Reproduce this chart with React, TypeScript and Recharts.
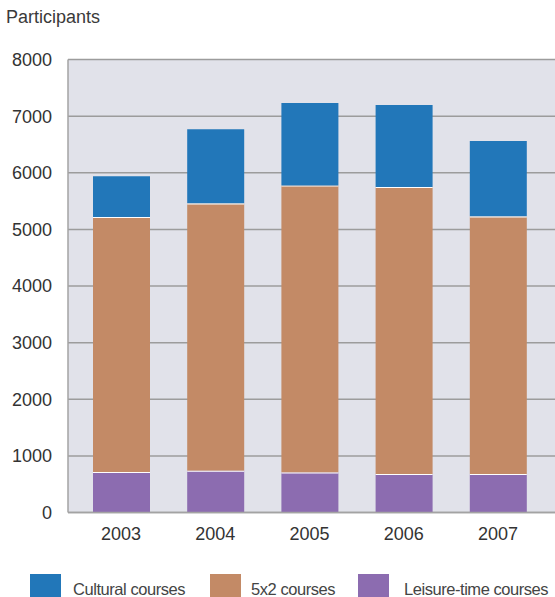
import React from 'react';
import { BarChart, Bar, XAxis, YAxis, CartesianGrid } from 'recharts';

const years = ['2003', '2004', '2005', '2006', '2007'];
const leisure = [715, 740, 710, 680, 680];
const fiveByTwo = [4505, 4720, 5065, 5070, 4550];
const cultural = [720, 1310, 1455, 1445, 1330];
const yTicks = [0, 1000, 2000, 3000, 4000, 5000, 6000, 7000, 8000];

const data = years.map((year, i) => ({
  year,
  leisure: leisure[i],
  fiveByTwo: fiveByTwo[i],
  cultural: cultural[i],
}));

const font = '"Liberation Sans", Arial, sans-serif';

// segment with a thin white seam on its top edge
const SeamBar = (props: any) => {
  const { x, y, width, height, fill } = props;
  if (!height) return null;
  return (
    <g>
      <rect x={x} y={y} width={width} height={height} fill={fill} />
      <line x1={x} x2={x + width} y1={y + 0.5} y2={y + 0.5} stroke="#ffffff" strokeWidth={1.2} />
    </g>
  );
};

const legendItems = [
  { label: 'Cultural courses', color: '#2277b9', box: 30, text: 73 },
  { label: '5x2 courses', color: '#c38a66', box: 210, text: 251 },
  { label: 'Leisure-time courses', color: '#8c6cb0', box: 358, text: 404 },
];

const App = () => {
  return (
    <div style={{ position: 'relative', width: 555, height: 597, overflow: 'hidden', background: '#fff' }}>
      <style>{'body{margin:0}'}</style>
      <div
        style={{
          position: 'absolute',
          left: 6,
          top: 6,
          fontFamily: font,
          fontSize: 18,
          color: '#3a3a3a',
          lineHeight: '22px',
        }}
      >
        Participants
      </div>
      <BarChart
        width={555}
        height={597}
        data={data}
        margin={{ top: 59.5, right: 0, left: 0, bottom: 54.5 }}
        barCategoryGap={0}
      >
        <CartesianGrid
          vertical={false}
          fill="#e1e2ea"
          stroke="#9c9c9c"
          strokeWidth={1.5}
          fillOpacity={1}
        />
        <XAxis
          dataKey="year"
          height={30}
          padding={{ left: 6, right: 10 }}
          tickSize={0}
          tickMargin={15}
          axisLine={{ stroke: '#a3a3a3', strokeWidth: 1.5 }}
          tick={{ fill: '#333', fontSize: 18, fontFamily: font }}
        />
        <YAxis
          width={68}
          domain={[0, 8000]}
          ticks={yTicks}
          interval={0}
          tickSize={0}
          tickMargin={16}
          axisLine={{ stroke: '#a3a3a3', strokeWidth: 1.5 }}
          tick={{ fill: '#333', fontSize: 18, fontFamily: font }}
        />
        <Bar dataKey="leisure" stackId="a" fill="#8c6cb0" barSize={57} shape={SeamBar} isAnimationActive={false} />
        <Bar dataKey="fiveByTwo" stackId="a" fill="#c38a66" barSize={57} shape={SeamBar} isAnimationActive={false} />
        <Bar dataKey="cultural" stackId="a" fill="#2277b9" barSize={57} isAnimationActive={false} />
      </BarChart>
      {legendItems.map((item) => (
        <React.Fragment key={item.label}>
          <div
            style={{
              position: 'absolute',
              left: item.box,
              top: 574,
              width: 31,
              height: 28,
              background: item.color,
            }}
          />
          <div
            style={{
              position: 'absolute',
              left: item.text,
              top: 578,
              fontFamily: font,
              fontSize: 16.5,
              letterSpacing: -0.45,
              lineHeight: '22px',
              color: '#444',
              whiteSpace: 'nowrap',
            }}
          >
            {item.label}
          </div>
        </React.Fragment>
      ))}
    </div>
  );
};

export default App;
